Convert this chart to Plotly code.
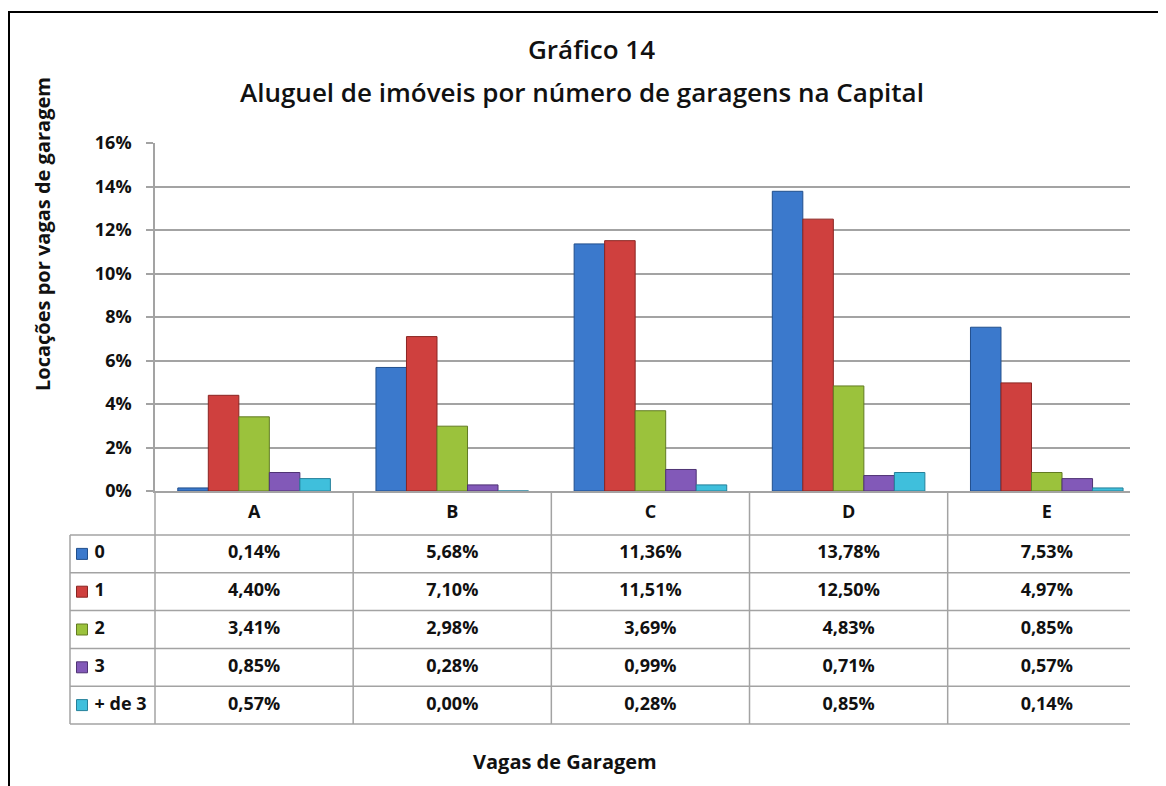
import plotly.graph_objects as go

# ---- data ----
categories = ["A", "B", "C", "D", "E"]
series_names = ["0", "1", "2", "3", "+ de 3"]
v0 = [0.14, 5.68, 11.36, 13.78, 7.53]
v1 = [4.40, 7.10, 11.51, 12.50, 4.97]
v2 = [3.41, 2.98, 3.69, 4.83, 0.85]
v3 = [0.85, 0.28, 0.99, 0.71, 0.57]
v4 = [0.57, 0.00, 0.28, 0.85, 0.14]
series_values = [v0, v1, v2, v3, v4]
colors = ["#3b79cc", "#cf403e", "#9bc23c", "#8259b8", "#3fbfdc"]
edge = ["#214f8c", "#8a2522", "#627b22", "#4f3374", "#25809a"]
y_ticks = [0, 2, 4, 6, 8, 10, 12, 14, 16]
y_ticktext = [f"{t}%" for t in y_ticks]

title1 = "Gráfico 14"
title2 = "Aluguel de imóveis por número de garagens na Capital"
ytitle = "Locações por vagas de garagem"
xtitle = "Vagas de Garagem"

# ---- layout geometry (window pixels; page body has an 8px margin) ----
OFF = 8
W, H = 1166 - OFF, 786 - OFF
ML, MR, MT, MB = 52, 20, 143 - OFF, 42
PW, PH = W - ML - MR, H - MT - MB
axis_left, axis_right = 155, 1130
plot_top, plot_bottom = 143, 491
header_h, row_h = 44, 37.8
table_left = 70


def px(x):
    return (x - OFF - ML) / PW


def py(y):
    return (H - MB - (y - OFF)) / PH


unit = (axis_right - axis_left) / 4.92  # px per category
x_range = [-0.5, -0.5 + (axis_right - axis_left) / unit]
x2_range = [-0.5 - (axis_left - OFF - ML) / unit, x_range[1]]
head_units = header_h / row_h
y2_top = -0.5 - head_units
y2_bottom = 4.5 + ((H - MB + OFF) - (plot_bottom + header_h + 5 * row_h)) / row_h

grid = "#a3a3a3"
font_fam = "Open Sans"
txt = "#111111"
tfont = dict(family=font_fam, size=18, color=txt, weight=700)

fig = go.Figure()

# bars
for name, vals, c, e in zip(series_names, series_values, colors, edge):
    fig.add_trace(go.Bar(x=categories, y=vals, name=name,
                         marker=dict(color=c, line=dict(color=e, width=1)),
                         xaxis="x", yaxis="y", showlegend=False))

# table: header labels
fig.add_trace(go.Scatter(x=list(range(len(categories))), y=[-0.5 - head_units / 2] * len(categories),
                         text=categories, mode="text", xaxis="x2", yaxis="y2",
                         textfont=tfont, showlegend=False, hoverinfo="skip"))

# table: values
for r, vals in enumerate(series_values):
    fig.add_trace(go.Scatter(x=list(range(len(categories))), y=[r] * len(categories),
                             text=[f"{v:.2f}".replace(".", ",") + "%" for v in vals],
                             mode="text", xaxis="x2", yaxis="y2",
                             textfont=tfont, showlegend=False, hoverinfo="skip"))

# table: legend keys
legend_x = x2_range[0] + (table_left - OFF - ML + 12) / unit
fig.add_trace(go.Scatter(x=[legend_x] * len(series_names), y=list(range(len(series_names))),
                         text=["\u00a0" + s for s in series_names], mode="markers+text",
                         textposition="middle right",
                         marker=dict(symbol="square", size=11, color=colors,
                                     line=dict(color=edge, width=1)),
                         textfont=tfont,
                         xaxis="x2", yaxis="y2", showlegend=False, hoverinfo="skip"))

shapes = []
lx = x2_range[0] + (table_left - OFF - ML) / unit
# horizontal table lines
for k in range(len(series_names) + 1):
    yy = -0.5 + k
    shapes.append(dict(type="line", xref="x2", yref="y2", x0=lx, x1=x_range[1], y0=yy, y1=yy,
                       line=dict(color=grid, width=1.5)))
# vertical table lines
for b in [i + 0.5 for i in range(len(categories) - 1)] + [-0.5]:
    shapes.append(dict(type="line", xref="x2", yref="y2", x0=b, x1=b, y0=y2_top, y1=4.5,
                       line=dict(color=grid, width=1.5)))
shapes.append(dict(type="line", xref="x2", yref="y2", x0=lx, x1=lx, y0=-0.5, y1=4.5,
                   line=dict(color=grid, width=1.5)))
# outer frame
shapes.append(dict(type="rect", xref="paper", yref="paper",
                   x0=px(9), x1=px(1200), y0=py(12), y1=py(820),
                   line=dict(color="black", width=2), fillcolor="rgba(0,0,0,0)"))

annotations = [
    dict(text=title1, x=px(591), y=py(49), xref="paper", yref="paper", showarrow=False,
         xanchor="center", yanchor="middle",
         font=dict(family=font_fam, size=26, color=txt, weight=600)),
    dict(text=title2, x=px(582), y=py(92), xref="paper", yref="paper", showarrow=False,
         xanchor="center", yanchor="middle",
         font=dict(family=font_fam, size=26, color=txt, weight=600)),
    dict(text=ytitle, x=px(42), y=py(234), xref="paper", yref="paper", showarrow=False,
         xanchor="center", yanchor="middle",
         textangle=-90, font=dict(family=font_fam, size=20, color=txt, weight=700)),
    dict(text=xtitle, x=px(565), y=py(761), xref="paper", yref="paper", showarrow=False,
         xanchor="center", yanchor="middle",
         font=dict(family=font_fam, size=20, color=txt, weight=700)),
]

fig.update_layout(
    width=W, height=H,
    margin=dict(l=ML, r=MR, t=MT, b=MB, pad=0),
    paper_bgcolor="white", plot_bgcolor="white",
    barmode="group", bargap=0.23, bargroupgap=0,
    xaxis=dict(domain=[px(axis_left), px(axis_right)], range=x_range, type="category",
               showticklabels=False, ticks="", showgrid=False, zeroline=False,
               showline=True, linecolor=grid, linewidth=1.5, anchor="y"),
    yaxis=dict(domain=[py(plot_bottom), 1], range=[0, 16], tickvals=y_ticks,
               ticktext=y_ticktext, showgrid=True, gridcolor=grid, gridwidth=1.5,
               zeroline=False, showline=True, linecolor=grid, linewidth=1.5,
               ticks="outside", ticklen=7, tickcolor=grid, tickwidth=1.5,
               ticklabelstandoff=11,
               tickfont=dict(family=font_fam, size=18, color=txt, weight=700),
               anchor="x"),
    xaxis2=dict(domain=[0, px(axis_right)], range=x2_range, showticklabels=False,
                showgrid=False, zeroline=False, showline=False, ticks="", anchor="y2"),
    yaxis2=dict(domain=[0, py(plot_bottom)], range=[y2_bottom, y2_top], showticklabels=False,
                showgrid=False, zeroline=False, showline=False, ticks="", anchor="x2"),
    shapes=shapes, annotations=annotations,
)

fig.write_html("out.html")
